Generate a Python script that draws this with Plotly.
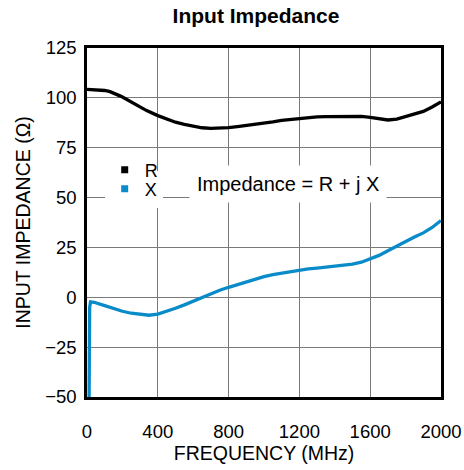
import plotly.graph_objects as go

# ---- data ----
freq_r = [0, 50, 75, 100, 130, 150, 186, 200, 262, 300, 337, 400, 450, 500, 550, 600,
          650, 700, 750, 800, 850, 900, 950, 1000, 1050, 1100, 1150, 1200, 1250, 1300,
          1350, 1400, 1450, 1500, 1550, 1600, 1650, 1700, 1750, 1800, 1850, 1900, 1950, 2000]
r_vals = [104.3, 104.2, 104.0, 103.7, 103.1, 102.5, 101.0, 100.4, 97.3, 95.4, 93.6, 91.1,
          89.4, 87.8, 86.7, 85.7, 85.0, 84.7, 84.8, 85.1, 85.6, 86.1, 86.6, 87.3, 88.0,
          88.7, 89.2, 89.7, 90.1, 90.5, 90.6, 90.6, 90.7, 90.8, 90.7, 90.2, 89.5, 88.9,
          89.3, 90.5, 91.6, 93.2, 95.4, 98.0]

freq_x = [12, 15, 20, 40, 100, 150, 200, 250, 300, 350, 400, 450, 500, 550, 600, 650,
          700, 750, 800, 850, 900, 950, 1000, 1050, 1100, 1150, 1200, 1250, 1300, 1350,
          1400, 1450, 1500, 1550, 1600, 1650, 1700, 1750, 1800, 1850, 1900, 1950, 2000]
x_vals = [-50.0, -5.0, -2.3, -2.5, -4.2, -5.7, -7.0, -8.0, -8.7, -9.0, -8.4, -7.1, -5.5,
          -3.8, -1.9, 0.0, 1.8, 3.5, 5.0, 6.4, 7.8, 9.1, 10.4, 11.4, 12.2, 13.0, 13.7,
          14.2, 14.6, 15.0, 15.5, 16.0, 16.6, 17.6, 19.2, 21.0, 23.3, 25.7, 28.0, 30.2,
          32.3, 35.0, 38.5]

x_ticks = [0, 400, 800, 1200, 1600, 2000]
y_ticks = [-50, -25, 0, 25, 50, 75, 100, 125]

R_COLOR = "black"
X_COLOR = "#0a8bc9"
FONT = "Liberation Sans, Arial, sans-serif"

fig = go.Figure()
fig.add_trace(go.Scatter(x=freq_r, y=r_vals, mode="lines", showlegend=False,
                         line=dict(color=R_COLOR, width=3.3)))
fig.add_trace(go.Scatter(x=freq_x, y=x_vals, mode="lines", showlegend=False,
                         line=dict(color=X_COLOR, width=3.3)))
# legend entries (square swatches); X entry carries the white box, R sits on top
fig.add_trace(go.Scatter(x=[None], y=[None], mode="markers", name="X", legend="legend",
                         marker=dict(symbol="square", size=7, color=X_COLOR)))
fig.add_trace(go.Scatter(x=[None], y=[None], mode="markers", name="R", legend="legend2",
                         marker=dict(symbol="square", size=7, color=R_COLOR)))

axis_common = dict(showgrid=True, gridcolor="#7a7a7a", gridwidth=1, showline=True,
                   linecolor="black", linewidth=2.5, mirror=True, ticks="",
                   zeroline=False, automargin=False, tickfont=dict(size=18.5, color="black"))

fig.update_xaxes(range=[0, 2000], tickvals=x_ticks, ticklabelstandoff=16,
                 title=dict(text="FREQUENCY (MHz)", font=dict(size=19.5, color="black"), standoff=0),
                 **axis_common)
fig.update_yaxes(range=[-50, 125], tickvals=y_ticks, ticklabelstandoff=4,
                 title=dict(text="INPUT IMPEDANCE (Ω)", font=dict(size=19.5, color="black"), standoff=10),
                 **axis_common)

leg = dict(xanchor="left", yanchor="middle", borderwidth=0,
           font=dict(size=18, color="black"), itemwidth=30)
fig.update_layout(
    width=464, height=470,
    margin=dict(l=87, r=23, t=48, b=73, autoexpand=False),
    paper_bgcolor="white", plot_bgcolor="white",
    font=dict(family=FONT, color="black"),
    title=dict(text="<b>Input Impedance</b>", x=256 / 464, xanchor="center",
               y=1 - 16 / 470, yanchor="middle", font=dict(size=21, color="black")),
    legend=dict(x=0.05, y=(397 - 189) / 349, bgcolor="white", **leg),
    legend2=dict(x=0.05, y=(397 - 170) / 349, bgcolor="rgba(0,0,0,0)", **leg),
    annotations=[dict(x=1133, y=56.6, xref="x", yref="y", text="Impedance = R + j X",
                      showarrow=False, bgcolor="white", borderpad=7,
                      font=dict(size=20, color="black"))],
)

fig.write_html("out.html", config={"displayModeBar": False},
               post_script="document.body.style.margin='0';document.body.style.overflow='hidden';")
